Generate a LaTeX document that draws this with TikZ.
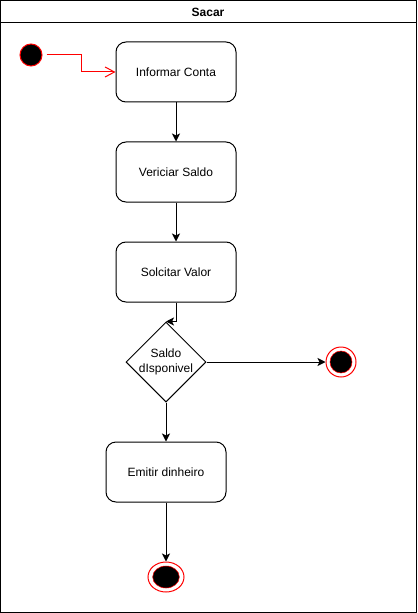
\documentclass[tikz,border=0pt]{standalone}
\usepackage{fontspec}
\setmainfont{Liberation Sans}
\usetikzlibrary{arrows.meta,shapes.geometric}

\tikzset{
    acao/.style={draw, rounded corners=7.5pt, minimum width=90pt, minimum height=45pt,
        inner sep=0pt, font=\small},
    decisao/.style={draw, diamond, minimum width=60pt, minimum height=60pt, inner sep=0pt},
    inicio/.style={circle, fill=black, draw=red, minimum size=16.5pt, inner sep=0pt},
    anel/.style={draw=red, inner sep=0pt},
    miolo/.style={fill=black, draw=red, line width=0.4pt, inner sep=0pt},
    seta/.style={-{Stealth[length=6pt, width=6pt, inset=1.5pt]}},
    setaaberta/.style={-{Straight Barb[length=7pt, width=7.5pt]}, red}
}

\begin{document}
\begin{tikzpicture}[x=0.75pt, y=-0.75pt, line width=0.75pt]
    \useasboundingbox (0,0) rectangle (417,613);
    % moldura e titulo
    \draw (0.5,0.5) rectangle (416.5,612.5);
    \draw (0.5,23) -- (416.5,23);
    \node[font=\bfseries\small] (tit) at (208,12) {Sacar};

    \node[inicio] (ini) at (31,55) {};
    \node[acao] (inf) at (176,72) {Informar Conta};
    \node[acao] (ver) at (176,172) {Vericiar Saldo};
    \node[acao] (sol) at (176,272) {Solcitar Valor};
    \node[decisao] (dec) at (166,362) {};
    \node[align=center, font=\small, inner sep=0pt] (txt) at (dec.center) {Saldo\\dIsponivel};
    \node[anel, circle, minimum size=22.5pt] (fim1) at (341,362) {};
    \node[miolo, circle, minimum size=16.5pt] (fim1c) at (fim1.center) {};
    \node[acao] (emi) at (166,472) {Emitir dinheiro};
    \node[anel, ellipse, minimum width=27pt, minimum height=22.5pt] (fim2) at (166,577) {};
    \node[miolo, ellipse, minimum width=20pt, minimum height=16.5pt] (fim2c) at (fim2.center) {};

    \coordinate (dob) at (81,55);
    \draw[setaaberta, shorten <=3pt] (ini) -- (dob) |- (inf.west);
    \draw[seta] (inf) -- (ver);
    \draw[seta] (ver) -- (sol);
    \draw[seta] (sol.south) |- (dec.north);
    \draw[seta] (dec.east) -- (fim1.west);
    \draw[seta] (dec.south) -- (emi.north);
    \draw[seta] (emi.south) -- (fim2.north);
\end{tikzpicture}
\end{document}
